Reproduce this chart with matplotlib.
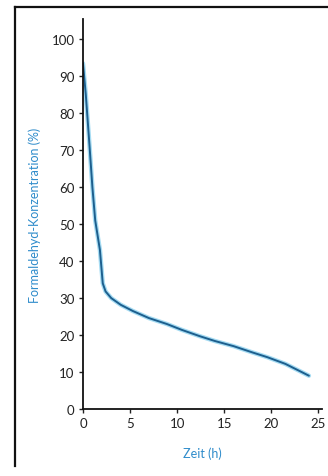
import matplotlib
matplotlib.use("Agg")
import matplotlib.pyplot as plt
from matplotlib.lines import Line2D

plt.rcParams['font.family'] = ['Lato', 'DejaVu Sans']

# Formaldehyd-Abbau über die Zeit
zeit_h = [0.0, 0.3, 0.7, 1.0, 1.3, 1.8, 2.1, 2.4, 3.0, 4.0, 5.3, 7.0,
          8.9, 10.5, 12.4, 14.0, 16.0, 18.0, 19.6, 21.5, 23.3, 24.0]
konz_pct = [93.5, 85.0, 71.0, 60.0, 51.0, 43.0, 34.0, 31.8, 30.0, 28.2,
            26.5, 24.6, 23.0, 21.4, 19.7, 18.4, 17.0, 15.3, 14.0, 12.2, 9.9, 9.0]
x_ticks = [0, 5, 10, 15, 20, 25]
y_ticks = [0, 10, 20, 30, 40, 50, 60, 70, 80, 90, 100]

label_blue = "#2f8ccb"

fig = plt.figure(figsize=(3.28, 4.77), dpi=100)
ax = fig.add_axes([0.253, 0.1405, 0.729, 0.8175])

# heller Schein unter der Linie
ax.plot(zeit_h, konz_pct, color="#a6dcf3", linewidth=3.2, solid_capstyle='round')
ax.plot(zeit_h, konz_pct, color="#1d5f8e", linewidth=1.4, solid_capstyle='round')

ax.set_xlim(0, 25.4)
ax.set_ylim(0, 105.5)
ax.set_xticks(x_ticks)
ax.set_yticks(y_ticks)
ax.tick_params(labelsize=9.5, length=3, width=1, colors="#222222", pad=3)

for side in ['top', 'right']:
    ax.spines[side].set_visible(False)
for side in ['left', 'bottom']:
    ax.spines[side].set_linewidth(1.3)
    ax.spines[side].set_color("#111111")

ax.set_ylabel("Formaldehyd-Konzentration (%)", color=label_blue, fontsize=9, labelpad=8)
ax.set_xlabel("Zeit (h)", color=label_blue, fontsize=9, labelpad=12)

# Rahmen oben und links
fig.add_artist(Line2D([0.046, 0.046], [0.021, 0.984], color="#111111", linewidth=1.6))
fig.add_artist(Line2D([0.046, 1.0], [0.984, 0.984], color="#111111", linewidth=1.6))

fig.savefig("out.png", dpi=100)
